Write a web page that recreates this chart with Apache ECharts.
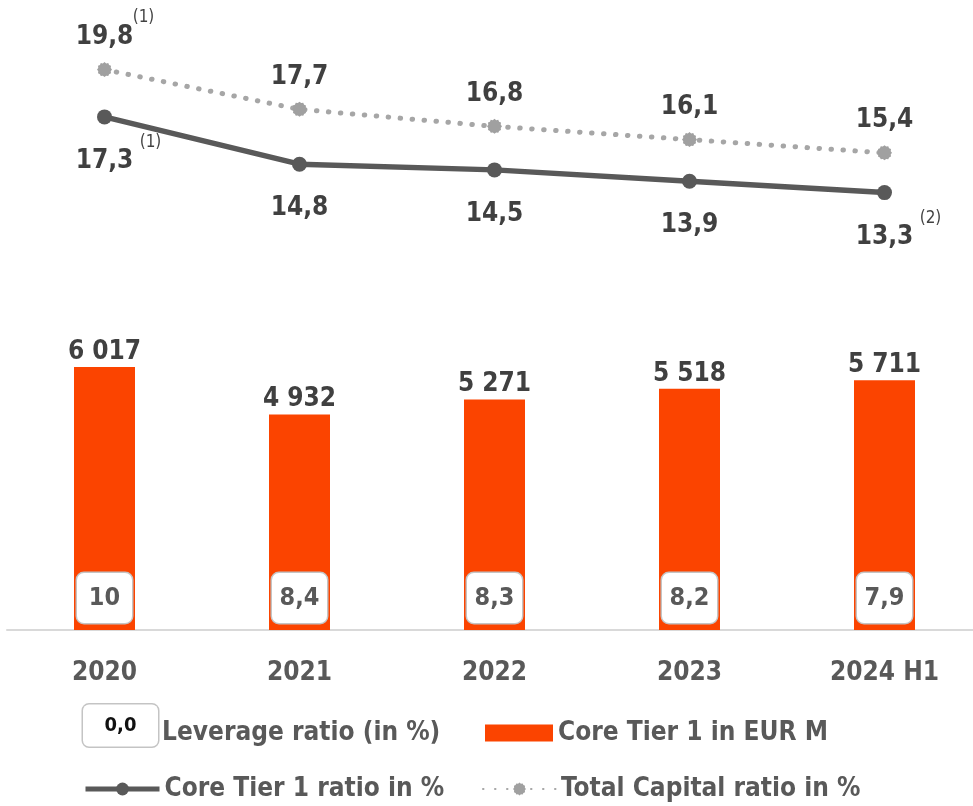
<!DOCTYPE html>
<html>
<head>
<meta charset="utf-8">
<script src="https://cdn.jsdelivr.net/npm/echarts@6/dist/echarts.min.js"></script>
<style>html,body{margin:0;padding:0;background:#fff}#c{width:973px;height:806px}</style>
</head>
<body>
<div id="c"></div>
<script>
const categories = ['2020', '2021', '2022', '2023', '2024 H1'];
const coreTier1Eur = [6017, 4932, 5271, 5518, 5711];
const leverageRatio = [10, 8.4, 8.3, 8.2, 7.9];
const coreTier1Ratio = [17.3, 14.8, 14.5, 13.9, 13.3];
const totalCapitalRatio = [19.8, 17.7, 16.8, 16.1, 15.4];
const coreTier1Notes = ['(1)', '', '', '', '(2)'];
const totalCapitalNotes = ['(1)', '', '', '', ''];

const FONT = '"DejaVu Sans Condensed", "DejaVu Sans", sans-serif';
const DARK = '#404040';
const GREY = '#595959';
const ORANGE = '#fb4400';

function fmtDec(v) { return Number.isInteger(v) ? String(v) : v.toFixed(1).replace('.', ','); }
function fmtThousands(v) { return String(v).replace(/\B(?=(\d{3})+(?!\d))/g, ' '); }

// serrated circle symbol
function serrated() {
  const n = 24, pts = [];
  for (let i = 0; i < n; i++) {
    const a = i / n * Math.PI * 2;
    const r = i % 2 === 0 ? 10 : 8.6;
    pts.push((10 + r * Math.cos(a)).toFixed(2) + ' ' + (10 + r * Math.sin(a)).toFixed(2));
  }
  return 'path://M' + pts.join(' L') + ' Z';
}
const SERR = serrated();

const legendText = { fontSize: 26, fontWeight: 'bold', color: GREY, fontFamily: FONT };

const chart = echarts.init(document.getElementById('c'));
chart.setOption({
  animation: false,
  textStyle: { fontFamily: FONT },
  grid: [
    { left: 7, width: 975, top: 28, height: 227, outerBoundsMode: 'none', containLabel: false },
    { left: 7, width: 975, top: 324, bottom: 176, outerBoundsMode: 'none', containLabel: false }
  ],
  xAxis: [
    { type: 'category', gridIndex: 0, data: categories, show: false },
    { type: 'category', gridIndex: 1, data: categories,
      axisLine: { lineStyle: { color: '#d9d9d9', width: 2 } },
      axisTick: { show: false },
      axisLabel: { margin: 30, color: GREY, fontSize: 26, fontWeight: 'bold', fontFamily: FONT } }
  ],
  yAxis: [
    { type: 'value', gridIndex: 0, min: 10, max: 22, show: false, splitLine: { show: false } },
    { type: 'value', gridIndex: 1, min: 0, max: 7000, show: false, splitLine: { show: false } }
  ],
  legend: [
    { data: ['Leverage ratio (in %)'], left: 78, top: 703, padding: 0, itemWidth: 0, itemHeight: 0, itemGap: 0, icon: 'rect',
      selectedMode: false,
      formatter: '{box|0,0}{t|{name}}',
      textStyle: { rich: {
        box: { width: 75, height: 42, align: 'center', verticalAlign: 'bottom', backgroundColor: '#fff', borderColor: '#c4c4c4', borderWidth: 1.5, borderRadius: 6,
               fontSize: 20, fontWeight: 'bold', color: '#111', fontFamily: FONT },
        t: { fontSize: 26, fontWeight: 'bold', color: GREY, fontFamily: FONT, verticalAlign: 'bottom', lineHeight: 24, padding: [0, 0, 0, 4] }
      } } },
    { data: ['Core Tier 1 in EUR M'], left: 485, top: 720, padding: 0, itemWidth: 68, itemHeight: 17, icon: 'rect',
      selectedMode: false, textStyle: legendText },
    { data: ['Core Tier 1 ratio in %'], left: 83, top: 776, padding: 0, itemWidth: 74, itemHeight: 16,
      lineStyle: { width: 5 },
      selectedMode: false, textStyle: legendText },
    { data: ['Total Capital ratio in %'], left: 482, top: 776, padding: 0, itemWidth: 73, itemHeight: 16,
      selectedMode: false, textStyle: legendText }
  ],
  series: [
    { name: 'Core Tier 1 in EUR M', type: 'bar', xAxisIndex: 1, yAxisIndex: 1, data: coreTier1Eur,
      barWidth: 61, itemStyle: { color: ORANGE },
      label: { show: true, position: 'top', distance: 0, offset: [0, -2], formatter: p => fmtThousands(p.value),
               color: DARK, fontSize: 26, fontWeight: 'bold', fontFamily: FONT } },
    { name: 'Leverage ratio (in %)', type: 'bar', xAxisIndex: 1, yAxisIndex: 1, data: coreTier1Eur,
      barWidth: 61, barGap: '-100%', itemStyle: { color: 'rgba(0,0,0,0)' }, silent: true,
      label: { show: true, position: 'insideBottom', distance: 7, formatter: p => fmtDec(leverageRatio[p.dataIndex]),
               backgroundColor: '#fff', borderColor: '#c4c4c4', borderWidth: 1.5, borderRadius: 7,
               width: 55, height: 50, lineHeight: 50, align: 'center', padding: 0,
               color: GREY, fontSize: 25, fontWeight: 'bold', fontFamily: FONT } },
    { name: 'Total Capital ratio in %', type: 'line', xAxisIndex: 0, yAxisIndex: 0, data: totalCapitalRatio,
      symbol: SERR, symbolSize: 15, z: 3,
      itemStyle: { color: '#a0a0a0' },
      lineStyle: { color: '#a6a6a6', width: 5, type: [0.5, 11.5], cap: 'round' },
      label: { show: true, position: 'top', distance: 12, formatter: p => fmtDec(p.value),
               color: DARK, fontSize: 26, fontWeight: 'bold', fontFamily: FONT } },
    { name: 'Core Tier 1 ratio in %', type: 'line', xAxisIndex: 0, yAxisIndex: 0, data: coreTier1Ratio,
      symbol: 'circle', symbolSize: 15, z: 4,
      itemStyle: { color: GREY },
      lineStyle: { color: GREY, width: 5.5 },
      label: { show: true, position: 'bottom', distance: 24, formatter: p => fmtDec(p.value),
               color: DARK, fontSize: 26, fontWeight: 'bold', fontFamily: FONT } },
    { name: 'tcNotes', type: 'scatter', xAxisIndex: 0, yAxisIndex: 0, data: totalCapitalRatio,
      symbolSize: 0, silent: true,
      label: { show: true, position: 'inside', offset: [39, -52], formatter: p => totalCapitalNotes[p.dataIndex],
               color: '#111', fontSize: 17, fontFamily: FONT } },
    { name: 'ct1Notes', type: 'scatter', xAxisIndex: 0, yAxisIndex: 0, data: coreTier1Ratio,
      symbolSize: 0, silent: true,
      label: { show: true, position: 'inside', offset: [46, 26], formatter: p => coreTier1Notes[p.dataIndex],
               color: '#111', fontSize: 17, fontFamily: FONT } }
  ]
});
</script>
</body>
</html>
